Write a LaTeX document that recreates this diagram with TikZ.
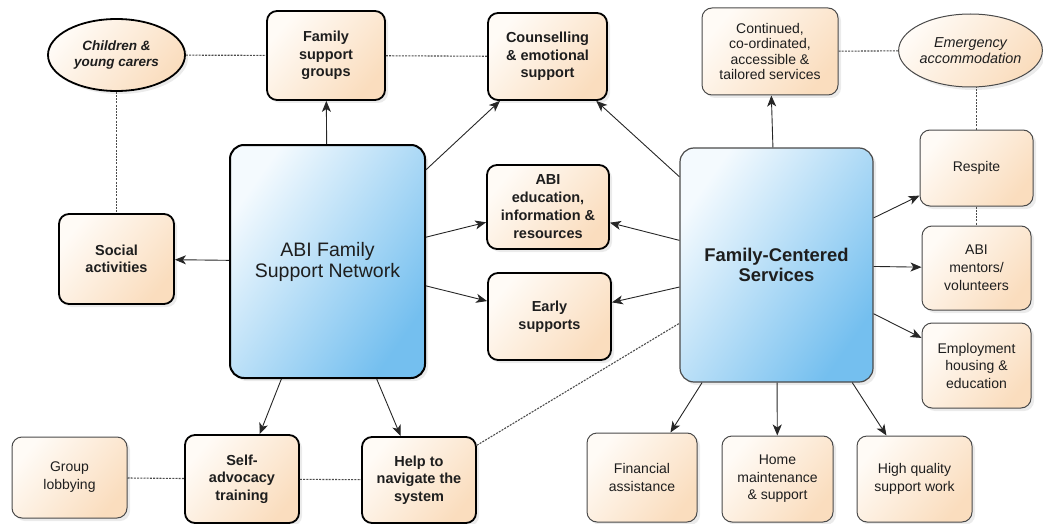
\documentclass[tikz,border=0pt]{standalone}
\usepackage{fontspec}
\setmainfont{Liberation Sans}
\usetikzlibrary{arrows.meta,shapes.geometric,shadows}
\definecolor{peachL}{HTML}{FFFBF6}
\definecolor{peachD}{HTML}{FADDBE}
\definecolor{blueL}{HTML}{F4FAFE}
\definecolor{blueD}{HTML}{74BFEF}
\definecolor{edgegray}{HTML}{4A4A4A}
\definecolor{txt}{HTML}{1E1E1E}
\begin{document}
\begin{tikzpicture}[x=1pt,y=-1pt,
  shd/.style={drop shadow={opacity=0.16, shadow xshift=3pt, shadow yshift=-3pt}},
  peach/.style={top color=peachL, bottom color=peachD, shading angle=50},
  boxbase/.style={rectangle, rounded corners=10pt, align=center, inner sep=0pt, text=txt, peach, shd},
  primary/.style={boxbase, draw=black, line width=1.8pt, font=\fontsize{14.5}{17.5}\selectfont\bfseries},
  secondary/.style={boxbase, draw=edgegray, line width=1pt, font=\fontsize{14}{17.5}\selectfont},
  ellbase/.style={ellipse, align=center, inner sep=0pt, text=txt, peach, shd},
  bignode/.style={rectangle, rounded corners=14pt, align=center, inner sep=0pt, text=txt,
     top color=blueL, bottom color=blueD, shading angle=55, shd},
  arr/.style={draw=black!85, line width=0.9pt, -{Stealth[length=11pt,width=9pt,inset=3pt]}},
  dsh/.style={draw=black!70, line width=1.1pt, dash pattern=on 2pt off 1.2pt}
]
\useasboundingbox (0,0) rectangle (1043,524);

% central nodes
\node[bignode, draw=black, line width=2pt, minimum width=195pt, minimum height=233pt,
      font=\fontsize{19.5}{21}\selectfont] (abi) at (327.5,261.5) {ABI Family\\Support Network};
\node[bignode, draw=edgegray, line width=1.2pt, minimum width=193pt, minimum height=234pt,
      font=\fontsize{18.4}{20.5}\selectfont\bfseries] (fcs) at (776.5,265) {Family-Centered\\Services};

% ellipses
\node[ellbase, draw=black, line width=1.8pt, minimum width=137pt, minimum height=72pt,
      font=\fontsize{13.5}{16}\selectfont\bfseries\itshape] (cyc) at (116.5,55) {Children \&\\young carers};
\node[ellbase, draw=edgegray, line width=1pt, minimum width=141pt, minimum height=73pt,
      font=\fontsize{14.4}{16}\selectfont\itshape] (emerg) at (970.5,50.5) {Emergency\\accommodation};

% primary boxes
\node[primary, minimum width=118pt, minimum height=89pt] (fsg) at (326,55.5) {Family\\support\\groups};
\node[primary, minimum width=119pt, minimum height=87pt] (couns) at (547.5,56.5) {Counselling\\\& emotional\\support};
\node[primary, minimum width=122pt, minimum height=84pt, font=\fontsize{14.5}{18}\selectfont\bfseries] (edu) at (548,207) {ABI\\education,\\information \&\\resources};
\node[primary, minimum width=123pt, minimum height=87pt] (early) at (549.5,316.5) {Early\\supports};
\node[primary, minimum width=115pt, minimum height=90pt] (social) at (116.5,259) {Social\\activities};
\node[primary, minimum width=114pt, minimum height=88pt] (self) at (242,479) {Self-\\advocacy\\training};
\node[primary, minimum width=114pt, minimum height=86pt] (help) at (419,480) {Help to\\navigate the\\system};

% secondary boxes
\node[secondary, minimum width=136pt, minimum height=87pt, font=\fontsize{14}{15.5}\selectfont] (cont) at (770,51.5) {Continued,\\co-ordinated,\\accessible \&\\tailored services};
\node[secondary, minimum width=113pt, minimum height=76pt] (resp) at (976.5,168) {Respite};
\node[secondary, minimum width=109pt, minimum height=84pt, font=\fontsize{14}{18}\selectfont] (ment) at (976.5,268) {ABI\\mentors/\\volunteers};
\node[secondary, minimum width=109pt, minimum height=85pt] (emp) at (976.5,365.5) {Employment\\housing \&\\education};
\node[secondary, minimum width=115pt, minimum height=81pt, font=\fontsize{14}{18}\selectfont] (lob) at (69.5,477.5) {Group\\lobbying};
\node[secondary, minimum width=110pt, minimum height=89pt, font=\fontsize{14}{18}\selectfont] (fin) at (642,477.5) {Financial\\assistance};
\node[secondary, minimum width=111pt, minimum height=86pt] (home) at (777.5,479) {Home\\maintenance\\\& support};
\node[secondary, minimum width=115pt, minimum height=86pt, font=\fontsize{14}{18}\selectfont] (high) at (914.5,479) {High quality\\support work};

% arrows from ABI Family Support Network
\draw[arr] (abi) -- (fsg);
\draw[arr] (abi) -- (couns);
\draw[arr] (abi) -- (edu);
\draw[arr] (abi) -- (early);
\draw[arr] (abi) -- (social);
\draw[arr] (abi) -- (self);
\draw[arr] (abi) -- (help);

% arrows from Family-Centered Services
\draw[arr] (fcs) -- (couns);
\draw[arr] (fcs) -- (edu);
\draw[arr] (fcs) -- (early);
\draw[arr] (fcs) -- (cont);
\draw[arr] (fcs) -- (resp);
\draw[arr] (fcs) -- (ment);
\draw[arr] (fcs) -- (emp);
\draw[arr] (fcs) -- (fin);
\draw[arr] (fcs) -- (home);
\draw[arr] (fcs) -- (high);

% dashed links
\draw[dsh] (cyc) -- (fsg);
\draw[dsh] (fsg) -- (couns);
\draw[dsh] (cyc) -- (social);
\draw[dsh] (cont) -- (emerg);
\draw[dsh] (resp.north) -- (resp.north |- emerg.south);
\draw[dsh] (resp) -- (ment);
\draw[dsh] (lob) -- (self);
\draw[dsh] (self) -- (help);
\draw[dsh] (help) -- (fcs);
\end{tikzpicture}
\end{document}
